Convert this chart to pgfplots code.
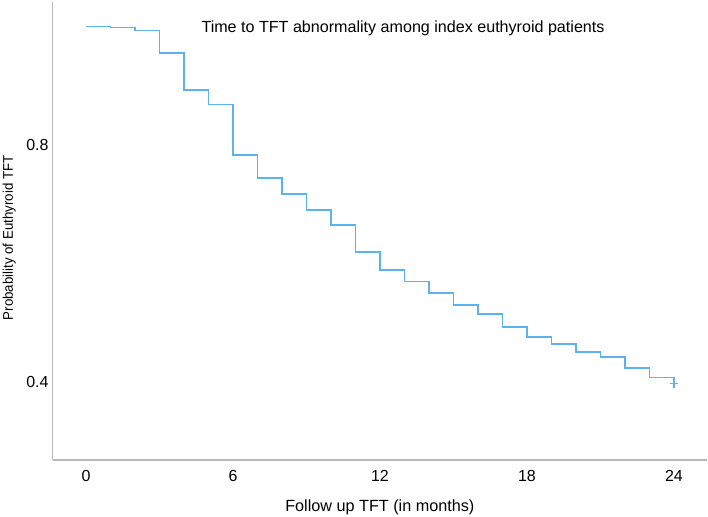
\documentclass[border=0pt]{standalone}
\usepackage{fontspec}
\setmainfont{Liberation Sans}
\usepackage{pgfplots}
\pgfplotsset{compat=1.18}
\definecolor{kmblue}{RGB}{92,178,238}
\definecolor{axgray}{RGB}{185,185,185}
\begin{document}
\begin{tikzpicture}
\begin{axis}[
  scale only axis,
  width=654.3bp, height=458bp,
  xmin=-1.36, xmax=25.35,
  ymin=0.2684, ymax=1.0413,
  axis x line=bottom, axis y line=left,
  axis line style={-, axgray, line width=1.3bp},
  xtick={0,6,12,18,24},
  ytick={0.4,0.8},
  yticklabels={0.4,0.8},
  major tick length=0pt,
  /pgf/number format/assume math mode=true,
  tick label style={font=\fontsize{16bp}{18bp}\selectfont, text=black},
  xticklabel style={inner sep=0pt, yshift=-10bp},
  yticklabel style={inner sep=0pt, xshift=-4bp},
  xlabel={Follow up TFT (in months)},
  xlabel style={font=\fontsize{16.2bp}{19bp}\selectfont, at={(axis description cs:0.5,0)}, anchor=center, yshift=-47bp},
  ylabel={\scalebox{0.95}[1]{Probability of Euthyroid TFT}},
  ylabel style={font=\fontsize{14bp}{16bp}\selectfont, at={(axis description cs:0,0.485)}, anchor=center, yshift=43.5bp},
  clip=false,
]
\addplot[const plot, kmblue, line width=1.5bp] coordinates {
(0,1.000) (1,0.998) (2,0.993) (3,0.955) (4,0.893) (5,0.868) (6,0.783)
(7,0.744) (8,0.717) (9,0.690) (10,0.665) (11,0.619) (12,0.589) (13,0.570)
(14,0.550) (15,0.530) (16,0.515) (17,0.493) (18,0.476) (19,0.464) (20,0.451)
(21,0.442) (22,0.424) (23,0.408) (24,0.397)
};
\addplot[only marks, mark=+, mark size=4bp, kmblue, line width=1.3bp] coordinates {(24,0.397)};
\node[font=\fontsize{16.1bp}{19bp}\selectfont, anchor=center] at (axis cs:12.94,0.996) {Time to TFT abnormality among index euthyroid patients};
\coordinate (bl) at (rel axis cs:0,0);
\coordinate (tr) at (rel axis cs:1,1);
\end{axis}
\pgfresetboundingbox
\path ([shift={(-52.7bp,-57bp)}]bl) rectangle ([shift={(1bp,2bp)}]tr);
\end{tikzpicture}
\end{document}
